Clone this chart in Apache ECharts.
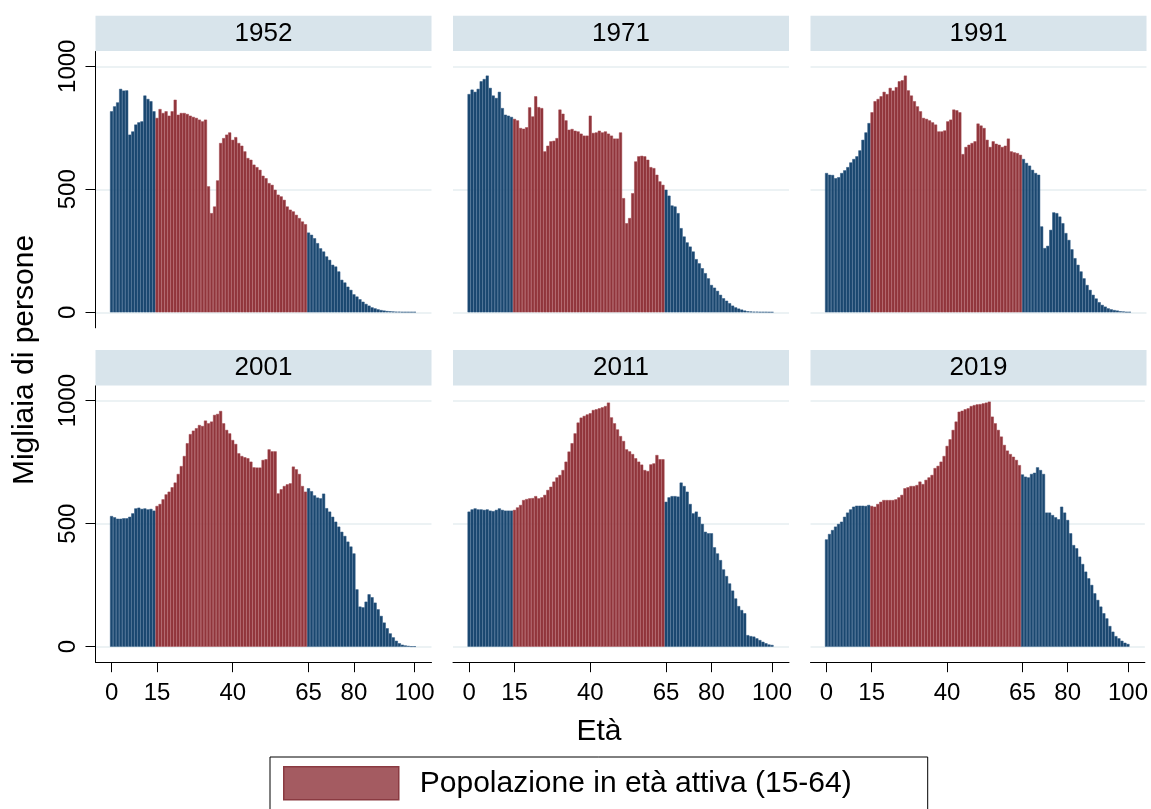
<!DOCTYPE html>
<html>
<head>
<meta charset="utf-8">
<script src="https://cdn.jsdelivr.net/npm/echarts@6/dist/echarts.min.js"></script>
<style>
  html, body { margin: 0; padding: 0; background: #ffffff; }
  #chart { width: 1151px; height: 809px; }
</style>
</head>
<body>
<div id="chart"></div>
<script>
// Panel titles (census / reference years)
const years = ['1952', '1971', '1991', '2001', '2011', '2019'];
// Single years of age, 0 to 100
const ages = Array.from({ length: 101 }, (_, i) => i);
// Axis tick labels
const ageTicks = [0, 15, 40, 65, 80, 100];
const popTicks = [0, 500, 1000];
// Working-age bounds (inclusive)
const workFrom = 15, workTo = 64;

// Resident population by single year of age, thousands of persons
const pop1952 = [817, 837, 853, 908, 901, 902, 722, 735, 763, 772, 776, 881, 867, 858, 817,
  790, 826, 810, 817, 799, 817, 864, 803, 810, 810, 806, 799, 794, 790, 783,
  776, 783, 512, 403, 430, 536, 688, 708, 722, 731, 701, 712, 688, 677, 654,
  627, 620, 600, 590, 579, 555, 545, 525, 518, 498, 478, 471, 457, 430, 417,
  410, 396, 383, 369, 358, 324, 315, 301, 281, 260, 247, 227, 213, 193, 186,
  166, 132, 121, 104, 91, 73, 64, 53, 43, 34, 27, 20, 16, 12, 9,
  7, 5, 4, 3, 2, 2, 1, 1, 1, 1, 1];
const pop1971 = [887, 905, 896, 908, 939, 948, 962, 912, 881, 871, 896, 830, 803, 799, 794,
  786, 780, 749, 746, 752, 833, 796, 878, 834, 830, 654, 677, 695, 697, 708,
  824, 807, 780, 742, 745, 738, 735, 726, 718, 718, 799, 729, 731, 738, 731,
  735, 726, 718, 706, 706, 731, 464, 362, 383, 484, 613, 634, 636, 634, 620,
  590, 586, 559, 532, 518, 498, 474, 434, 430, 403, 342, 308, 284, 267, 247,
  216, 199, 179, 159, 138, 111, 100, 87, 71, 57, 47, 37, 27, 20, 15,
  11, 7, 4, 3, 2, 2, 1, 1, 1, 0.5, 0.5];
const pop1991 = [566, 559, 558, 545, 549, 566, 577, 590, 609, 623, 634, 658, 701, 731, 769,
  813, 858, 867, 878, 896, 887, 912, 901, 915, 939, 943, 962, 902, 881, 858,
  837, 817, 790, 786, 780, 772, 763, 735, 735, 739, 776, 783, 824, 821, 813,
  643, 672, 681, 688, 695, 767, 759, 749, 701, 672, 695, 685, 681, 672, 677,
  706, 654, 650, 647, 640, 623, 607, 596, 579, 566, 559, 349, 261, 270, 335,
  406, 403, 389, 362, 322, 294, 256, 220, 193, 166, 138, 111, 91, 71, 56,
  41, 30, 23, 16, 12, 9, 7, 4, 3, 1, 1];
const pop2001 = [531, 526, 520, 520, 522, 522, 528, 542, 562, 565, 560, 562, 558, 560, 553,
  572, 580, 599, 619, 630, 648, 667, 702, 734, 775, 827, 864, 878, 888, 901,
  897, 919, 908, 915, 942, 946, 958, 908, 881, 867, 840, 824, 786, 775, 770,
  766, 752, 729, 728, 728, 759, 762, 802, 794, 794, 623, 640, 653, 660, 664,
  732, 721, 702, 653, 630, 644, 632, 615, 606, 603, 622, 563, 549, 528, 508,
  488, 467, 450, 427, 407, 379, 233, 163, 160, 183, 213, 201, 179, 152, 125,
  98, 75, 54, 38, 24, 14, 8, 5, 3, 1, 1];
const pop2011 = [549, 558, 562, 558, 558, 556, 558, 553, 551, 556, 562, 556, 553, 553, 553,
  556, 566, 576, 596, 600, 603, 604, 612, 603, 607, 617, 637, 650, 671, 688,
  698, 718, 752, 793, 827, 867, 911, 931, 938, 944, 949, 962, 965, 969, 973,
  978, 992, 932, 908, 883, 856, 836, 802, 794, 783, 766, 752, 740, 718, 714,
  741, 745, 779, 762, 762, 589, 607, 612, 612, 610, 667, 653, 630, 580, 542,
  549, 528, 499, 467, 461, 461, 404, 379, 352, 314, 287, 257, 228, 196, 165,
  149, 136, 47, 43, 41, 34, 27, 20, 14, 9, 7];
const pop2019 = [436, 458, 474, 488, 499, 508, 528, 545, 558, 569, 573, 573, 573, 572, 576,
  572, 569, 580, 589, 596, 596, 596, 596, 599, 607, 617, 644, 648, 653, 653,
  657, 671, 661, 678, 688, 698, 726, 735, 752, 775, 816, 843, 881, 915, 955,
  959, 965, 969, 978, 982, 985, 986, 989, 992, 996, 935, 908, 881, 854, 820,
  797, 783, 772, 759, 738, 700, 691, 688, 702, 707, 729, 718, 702, 545, 545,
  535, 526, 518, 569, 545, 515, 461, 413, 400, 366, 336, 305, 278, 251, 217,
  190, 163, 136, 115, 84, 61, 43, 34, 24, 16, 11];

const popByYear = [pop1952, pop1971, pop1991, pop2001, pop2011, pop2019];

const FONT = "'Liberation Sans', Arial, Helvetica, sans-serif";
const NAVY = '#1A476F';
const NAVY_EDGE = '#2A5680';
const MAROON = '#90353B';
const MAROON_EDGE = '#A2474E';
const GRID_LINE = '#E6EEF1';
const STRIP = '#D8E4EB';
const ACTIVE_NAME = 'Popolazione in età attiva (15-64)';
const OTHER_NAME = 'Popolazione in età non attiva';

// Panel geometry (3 columns x 2 rows)
const colLeft = [95.5, 453, 810.5];
const plotW = 336;
const rowTop = [51.5, 385.9];
const plotH = 276.3;
const stripH = 35.3;

const grid = [], xAxis = [], yAxis = [], series = [], graphic = [];

years.forEach((year, i) => {
  const row = Math.floor(i / 3), col = i % 3;
  const left = colLeft[col], top = rowTop[row];
  grid.push({ left: left, top: top, width: plotW, height: plotH, containLabel: false });

  const bottomRow = row === 1, leftCol = col === 0;
  xAxis.push({
    gridIndex: i, type: 'value', min: -5.3, max: 105.6,
    axisLine: { show: bottomRow, onZero: false, lineStyle: { color: '#000', width: 1 } },
    axisTick: { show: bottomRow, length: 10, customValues: ageTicks, lineStyle: { color: '#000', width: 1 } },
    axisLabel: { show: bottomRow, customValues: ageTicks, fontSize: 24, color: '#000', fontFamily: FONT, margin: 19,
      formatter: v => String(v) },
    splitLine: { show: false }
  });
  yAxis.push({
    gridIndex: i, type: 'value', min: -63, max: 1060,
    axisLine: { show: leftCol, onZero: false, lineStyle: { color: '#000', width: 1 } },
    axisTick: { show: leftCol, length: 10, customValues: popTicks, lineStyle: { color: '#000', width: 1 } },
    axisLabel: { show: leftCol, customValues: popTicks, rotate: 90, fontSize: 24, color: '#000', fontFamily: FONT, margin: 15,
      formatter: v => String(v) },
    splitLine: { show: true, lineStyle: { color: GRID_LINE, width: 1.5 } }
  });

  const pop = popByYear[i];
  const outer = [], active = [];
  ages.forEach((a, k) => {
    const pt = [a, pop[k]];
    if (a >= workFrom && a <= workTo) active.push(pt); else outer.push(pt);
  });
  const common = {
    type: 'bar', xAxisIndex: i, yAxisIndex: i,
    barWidth: '100%', barGap: '-100%', silent: true, animation: false
  };
  series.push(Object.assign({}, common, {
    name: OTHER_NAME, data: outer,
    itemStyle: { color: NAVY, borderColor: NAVY_EDGE, borderWidth: 0.5 }
  }));
  series.push(Object.assign({}, common, {
    name: ACTIVE_NAME, data: active,
    itemStyle: { color: MAROON, borderColor: MAROON_EDGE, borderWidth: 0.5 }
  }));

  // Panel header strip
  graphic.push({
    type: 'rect', silent: true,
    shape: { x: left, y: top - stripH - 0.5, width: plotW, height: stripH },
    style: { fill: STRIP }
  });
  graphic.push({
    type: 'text', silent: true,
    x: left + plotW / 2, y: top - stripH / 2 - 0.5,
    style: { text: year, fill: '#000', font: '26px ' + FONT, textAlign: 'center', textVerticalAlign: 'middle' }
  });
});

// Axis titles
graphic.push({
  type: 'text', silent: true, x: 25, y: 360, rotation: Math.PI / 2,
  style: { text: 'Migliaia di persone', fill: '#000', font: '30px ' + FONT, textAlign: 'center', textVerticalAlign: 'middle' }
});
graphic.push({
  type: 'text', silent: true, x: 599, y: 732,
  style: { text: 'Età', fill: '#000', font: '30px ' + FONT, textAlign: 'center', textVerticalAlign: 'middle' }
});

const chart = echarts.init(document.getElementById('chart'), null, { renderer: 'canvas' });
chart.setOption({
  backgroundColor: '#ffffff',
  animation: false,
  grid: grid,
  xAxis: xAxis,
  yAxis: yAxis,
  series: series,
  graphic: graphic,
  legend: {
    data: [{ name: ACTIVE_NAME, itemStyle: { color: '#A45B61', borderColor: '#8A3A41', borderWidth: 1.5 } }],
    left: 270, top: 757,
    icon: 'rect', itemWidth: 115, itemHeight: 33,
    borderColor: '#000', borderWidth: 1, padding: [9, 76, 9, 13],
    selectedMode: false,
    textStyle: { fontSize: 30, color: '#000', fontFamily: FONT, padding: [0, 0, 0, 16] }
  }
});
</script>
</body>
</html>
